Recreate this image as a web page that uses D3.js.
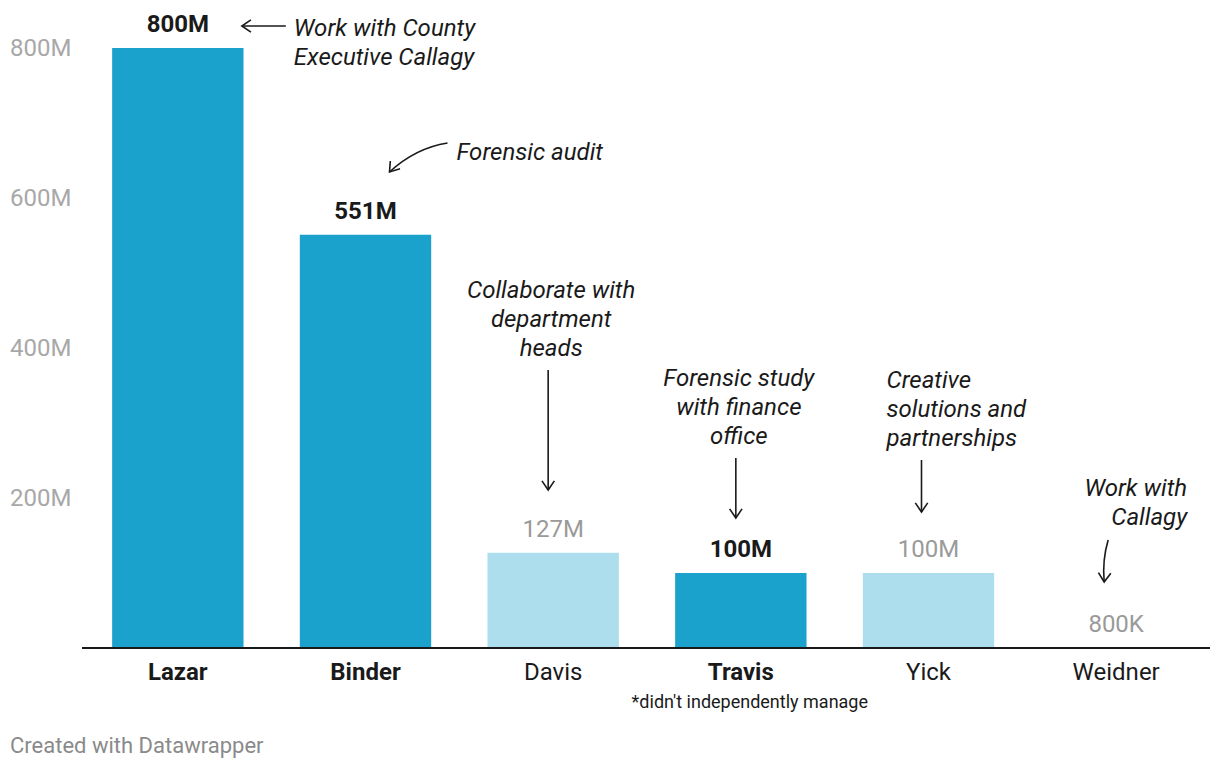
<!DOCTYPE html>
<html><head><meta charset="utf-8">
<script src="https://cdn.jsdelivr.net/npm/d3@7"></script>
<style>
body{margin:0;background:#fff;font-family:Roboto,"Noto Sans",sans-serif;}
svg text{font-family:Roboto,"Noto Sans",sans-serif;}
</style></head>
<body><svg id="c" width="1220" height="768"></svg>
<script>
const categories = ["Lazar","Binder","Davis","Travis","Yick","Weidner"];
const values = [800, 551, 127, 100, 100, 0.8];
const valueLabels = ["800M","551M","127M","100M","100M","800K"];
const highlighted = [true, true, false, true, false, false];
const tickValues = [200, 400, 600, 800];
const tickLabels = ["200M","400M","600M","800M"];
const annotations = [
  {cat:"Lazar", lines:["Work with County","Executive Callagy"]},
  {cat:"Binder", lines:["Forensic audit"]},
  {cat:"Davis", lines:["Collaborate with","department","heads"]},
  {cat:"Travis", lines:["Forensic study","with finance","office"]},
  {cat:"Yick", lines:["Creative","solutions and","partnerships"]},
  {cat:"Weidner", lines:["Work with","Callagy"]}
];

const svg = d3.select("#c");
const x = d3.scaleBand().domain(categories).range([84, 1210]).paddingInner(0.3).paddingOuter(0.15);
const y = d3.scaleLinear().domain([0, 800]).range([648, 48]);
const dark = "#1aa1cc", light = "#addeed";

// y tick labels
svg.append("g").selectAll("text").data(tickValues).join("text")
  .attr("x", 10).attr("y", d => y(d)).attr("dy", "0.35em")
  .attr("fill", "#a8a8a8").attr("font-size", 24)
  .text((d,i) => tickLabels[i]);

// bars
svg.append("g").selectAll("rect").data(categories).join("rect")
  .attr("x", d => x(d)).attr("width", x.bandwidth())
  .attr("y", (d,i) => y(values[i])).attr("height", (d,i) => y(0) - y(values[i]))
  .attr("fill", (d,i) => highlighted[i] ? dark : light);

// baseline
svg.append("line").attr("x1", 82).attr("x2", 1210).attr("y1", y(0)).attr("y2", y(0))
  .attr("stroke", "#1a1a1a").attr("stroke-width", 2);

// value labels
svg.append("g").selectAll("text").data(categories).join("text")
  .attr("x", d => x(d) + x.bandwidth()/2).attr("y", (d,i) => y(values[i]) - 24).attr("dy", "0.35em")
  .attr("text-anchor", "middle").attr("font-size", 24)
  .attr("font-weight", (d,i) => highlighted[i] ? 700 : 400)
  .attr("fill", (d,i) => highlighted[i] ? "#1a1a1a" : "#9a9a9a")
  .text((d,i) => valueLabels[i]);

// category labels
svg.append("g").selectAll("text").data(categories).join("text")
  .attr("x", d => x(d) + x.bandwidth()/2).attr("y", 672).attr("dy", "0.35em")
  .attr("text-anchor", "middle").attr("font-size", 24)
  .attr("font-weight", (d,i) => highlighted[i] ? 700 : 400)
  .attr("fill", "#1a1a1a")
  .text(d => d);

// footnote
svg.append("text").attr("x", x("Travis") + x.bandwidth()/2 + 9).attr("y", 702).attr("dy","0.35em")
  .attr("text-anchor","middle").attr("font-size", 18).attr("fill","#1a1a1a")
  .text("*didn't independently manage");

svg.append("text").attr("x", 10).attr("y", 745).attr("dy","0.35em")
  .attr("font-size", 22).attr("fill","#8a8a8a").text("Created with Datawrapper");

// annotations
const cx = c => x(c) + x.bandwidth()/2;
const annPos = {
  Lazar:   {dx: 116, y0: 28, anchor: "start"},
  Binder:  {dx: 91,  y0: 152, anchor: "start"},
  Davis:   {dx: -2,  y0: 290, anchor: "middle"},
  Travis:  {dx: -2,  y0: 378, anchor: "middle"},
  Yick:    {dx: -42, y0: 380, anchor: "start"},
  Weidner: {dx: 71,  y0: 488, anchor: "end"}
};
const ag = svg.append("g");
annotations.forEach(a => {
  const p = annPos[a.cat];
  const t = ag.append("text").attr("x", cx(a.cat) + p.dx).attr("y", p.y0)
    .attr("text-anchor", p.anchor).attr("font-size", 24).attr("font-style","italic").attr("fill","#1a1a1a");
  a.lines.forEach((l,i) => t.append("tspan").attr("x", cx(a.cat) + p.dx).attr("dy", i === 0 ? "0.35em" : 28.8).text(l));
});

// arrows
function arrow(pathD, tip, angle) {
  ag.append("path").attr("d", pathD).attr("fill","none").attr("stroke","#1a1a1a").attr("stroke-width",1.6);
  const L = 11, s = 0.6;
  const a1 = angle + Math.PI - s, a2 = angle + Math.PI + s;
  ag.append("path")
    .attr("d", `M${tip[0] + L*Math.cos(a1)},${tip[1] + L*Math.sin(a1)}L${tip[0]},${tip[1]}L${tip[0] + L*Math.cos(a2)},${tip[1] + L*Math.sin(a2)}`)
    .attr("fill","none").attr("stroke","#1a1a1a").attr("stroke-width",1.6);
}
const c0 = cx("Lazar");
arrow(`M${c0+108},26L${c0+64},26`, [c0+64,26], Math.PI);
const c1 = cx("Binder");
arrow(`M${c1+82},143Q${c1+50},148 ${c1+24},172`, [c1+24,172], Math.atan2(172-152, c1+24-(c1+40)));
const c2 = cx("Davis");
arrow(`M${c2-5},370L${c2-5},490`, [c2-5,490], Math.PI/2);
const c3 = cx("Travis");
arrow(`M${c3-5},458L${c3-5},518`, [c3-5,518], Math.PI/2);
const c4 = cx("Yick");
arrow(`M${c4-7},460L${c4-7},512`, [c4-7,512], Math.PI/2);
const c5 = cx("Weidner");
arrow(`M${c5-8},540Q${c5-14},560 ${c5-12},582`, [c5-12,582], Math.PI/2 + 0.05);
</script></body></html>
